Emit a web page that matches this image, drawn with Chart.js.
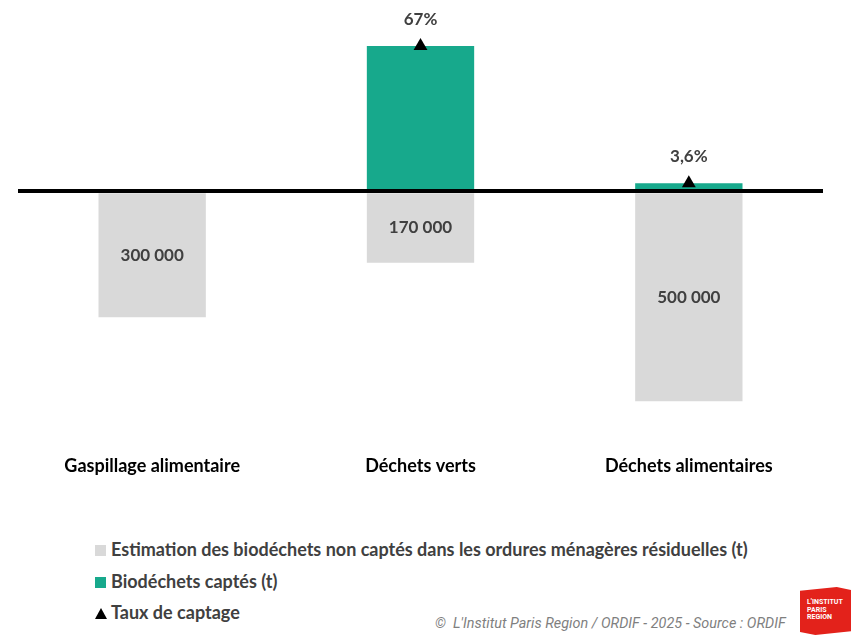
<!DOCTYPE html>
<html lang="fr">
<head>
<meta charset="utf-8">
<script src="https://cdn.jsdelivr.net/npm/chart.js@4.4.1/dist/chart.umd.min.js"></script>
<style>
  html, body { margin: 0; padding: 0; background: #fff; }
  body { width: 865px; height: 644px; position: relative; overflow: hidden; font-family: Lato, "Open Sans", sans-serif; }
  #wrap { position: absolute; left: 0; top: 0; width: 865px; height: 501px; }
  .legend { position: absolute; left: 95px; top: 536px; color: #404040; font-weight: bold; font-size: 18px; }
  .legend div { height: 31.5px; line-height: 26px; white-space: nowrap; }
  .sw { display: inline-block; width: 11px; height: 11px; margin-right: 5px; vertical-align: 0px; }
  .tri { display: inline-block; width: 0; height: 0; border-left: 6px solid transparent; border-right: 6px solid transparent; border-bottom: 11px solid #000; margin-right: 4px; vertical-align: 0px; }
  .credit { position: absolute; left: 435px; top: 615px; font-family: Roboto, sans-serif; font-style: italic; font-size: 14.4px; color: #7f7f7f; white-space: nowrap; }
  .logo { position: absolute; left: 800px; top: 587px; width: 51px; height: 48px; background: #e3221b;
          clip-path: polygon(0 8%, 72% 0, 100% 6%, 100% 92%, 30% 100%, 0 94%); color: #fff; font-family: Roboto, sans-serif; font-weight: bold; font-size: 7px; line-height: 7.5px; }
  .logo span { position: absolute; left: 7px; top: 12px; }
</style>
</head>
<body>
<div id="wrap"><canvas id="chart"></canvas></div>

<div class="legend">
  <div><span class="sw" style="background:#d9d9d9"></span>Estimation des biodéchets non captés dans les ordures ménagères résiduelles (t)</div>
  <div><span class="sw" style="background:#17a98c"></span>Biodéchets captés (t)</div>
  <div><span class="tri"></span>Taux de captage</div>
</div>
<div class="credit">©&nbsp; L'Institut Paris Region / ORDIF - 2025 - Source : ORDIF</div>
<div class="logo"><span>L'INSTITUT<br>PARIS<br>REGION</span></div>

<script>
// Categories and series
const categories = ['Gaspillage alimentaire', 'Déchets verts', 'Déchets alimentaires'];
const nonCaptes = [300000, 170000, 500000];   // tonnes, drawn below the zero line
const captes = [0, 345000, 18700];            // tonnes, drawn above the zero line
const tauxCaptage = [null, 67, 3.6];          // %

const GRAY = '#d9d9d9';
const GREEN = '#17a98c';
const TEXT = '#404040';

function fmtTonnes(v) {
    return String(v).replace(/\B(?=(\d{3})+(?!\d))/g, ' ');
}
function fmtPct(v) {
    return String(v).replace('.', ',') + '%';
}

// Value labels: tonnage inside gray bars, rate above the triangles
const labelPlugin = {
    id: 'labels',
    afterDatasetsDraw(chart) {
        const ctx = chart.ctx;
        ctx.save();
        ctx.font = 'bold 17px Lato, sans-serif';
        ctx.fillStyle = TEXT;
        ctx.textAlign = 'center';
        ctx.textBaseline = 'middle';
        chart.getDatasetMeta(0).data.forEach((bar, i) => {
            ctx.fillText(fmtTonnes(nonCaptes[i]), bar.x, (bar.y + bar.base) / 2);
        });
        chart.getDatasetMeta(2).data.forEach((pt, i) => {
            if (tauxCaptage[i] == null) return;
            ctx.fillText(fmtPct(tauxCaptage[i]), pt.x, pt.y - 27);
        });
        ctx.restore();
    }
};

const ctx = document.getElementById('chart').getContext('2d');
new Chart(ctx, {
    data: {
        labels: categories,
        datasets: [
            {
                type: 'bar',
                label: 'Estimation des biodéchets non captés dans les ordures ménagères résiduelles (t)',
                data: nonCaptes.map(v => -v),
                backgroundColor: GRAY,
                barPercentage: 0.8,
                categoryPercentage: 0.5,
                order: 2
            },
            {
                type: 'bar',
                label: 'Biodéchets captés (t)',
                data: captes,
                backgroundColor: GREEN,
                barPercentage: 0.8,
                categoryPercentage: 0.5,
                order: 2
            },
            {
                type: 'line',
                label: 'Taux de captage',
                data: captes.map((v, i) => tauxCaptage[i] == null ? null : v),
                showLine: false,
                pointStyle: 'triangle',
                pointRadius: 8,
                backgroundColor: '#000',
                borderColor: '#000',
                borderWidth: 0,
                order: 1
            }
        ]
    },
    options: {
        responsive: true,
        maintainAspectRatio: false,
        animation: false,
        layout: { padding: { left: 18, right: 42, top: 23, bottom: 20 } },
        plugins: {
            legend: { display: false },
            tooltip: { enabled: false }
        },
        scales: {
            x: {
                stacked: true,
                grid: { display: false },
                border: { display: false },
                ticks: {
                    color: '#000',
                    font: { family: 'Lato, sans-serif', size: 18, weight: 'bold' },
                    padding: 4
                }
            },
            y: {
                stacked: true,
                min: -600000,
                max: 400000,
                ticks: { display: false, stepSize: 100000 },
                border: { display: false },
                grid: {
                    drawTicks: false,
                    color: c => c.tick && c.tick.value === 0 ? '#000' : 'rgba(0,0,0,0)',
                    lineWidth: c => c.tick && c.tick.value === 0 ? 4 : 0,
                    z: 1
                }
            }
        }
    },
    plugins: [labelPlugin]
});
</script>
</body>
</html>
